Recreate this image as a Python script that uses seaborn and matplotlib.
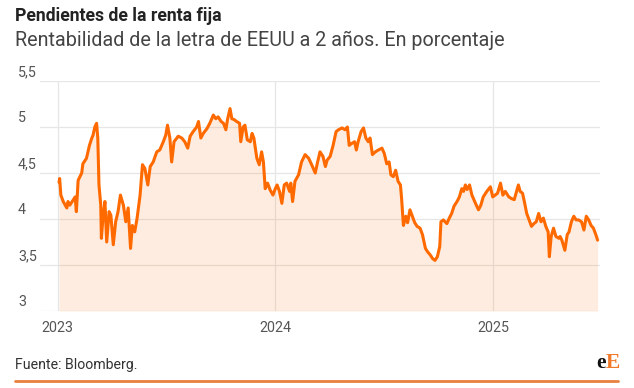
import matplotlib
matplotlib.use("Agg")
import matplotlib.pyplot as plt
import seaborn as sns
import pandas as pd

# ---------------- data ----------------
fechas = [
    "2023-01-03", "2023-01-04", "2023-01-06", "2023-01-10", "2023-01-16", "2023-01-18", "2023-01-21",
    "2023-01-27", "2023-01-30", "2023-02-01", "2023-02-04", "2023-02-10", "2023-02-12", "2023-02-18",
    "2023-02-23", "2023-02-27", "2023-03-01", "2023-03-04", "2023-03-07", "2023-03-09", "2023-03-11",
    "2023-03-14", "2023-03-15", "2023-03-18", "2023-03-21", "2023-03-24", "2023-03-28", "2023-03-31",
    "2023-04-04", "2023-04-08", "2023-04-12", "2023-04-16", "2023-04-21", "2023-04-25", "2023-04-29",
    "2023-05-03", "2023-05-06", "2023-05-10", "2023-05-14", "2023-05-19", "2023-05-23", "2023-05-27",
    "2023-06-01", "2023-06-05", "2023-06-10", "2023-06-16", "2023-06-21", "2023-06-27", "2023-07-01",
    "2023-07-04", "2023-07-08", "2023-07-11", "2023-07-15", "2023-07-22", "2023-07-28", "2023-08-02",
    "2023-08-07", "2023-08-11", "2023-08-16", "2023-08-22", "2023-08-25", "2023-08-29", "2023-09-02",
    "2023-09-08", "2023-09-13", "2023-09-19", "2023-09-23", "2023-09-27", "2023-10-02", "2023-10-06",
    "2023-10-10", "2023-10-13", "2023-10-17", "2023-10-20", "2023-10-24", "2023-10-28", "2023-11-02",
    "2023-11-04", "2023-11-08", "2023-11-11", "2023-11-15", "2023-11-20", "2023-11-23", "2023-11-26",
    "2023-12-01", "2023-12-05", "2023-12-09", "2023-12-12", "2023-12-15", "2023-12-19", "2023-12-23",
    "2023-12-28", "2024-01-01", "2024-01-04", "2024-01-08", "2024-01-12", "2024-01-16", "2024-01-20",
    "2024-01-25", "2024-01-27", "2024-01-30", "2024-02-03", "2024-02-09", "2024-02-14", "2024-02-20",
    "2024-02-26", "2024-03-02", "2024-03-08", "2024-03-12", "2024-03-16", "2024-03-21", "2024-03-25",
    "2024-03-28", "2024-04-02", "2024-04-07", "2024-04-12", "2024-04-16", "2024-04-22", "2024-04-27",
    "2024-05-01", "2024-05-04", "2024-05-08", "2024-05-13", "2024-05-16", "2024-05-19", "2024-05-24",
    "2024-05-28", "2024-06-01", "2024-06-05", "2024-06-08", "2024-06-12", "2024-06-17", "2024-06-22",
    "2024-06-28", "2024-07-02", "2024-07-06", "2024-07-10", "2024-07-13", "2024-07-17", "2024-07-21",
    "2024-07-25", "2024-07-29", "2024-07-31", "2024-08-03", "2024-08-07", "2024-08-10", "2024-08-14",
    "2024-08-18", "2024-08-22", "2024-08-26", "2024-08-31", "2024-09-04", "2024-09-09", "2024-09-13",
    "2024-09-17", "2024-09-21", "2024-09-25", "2024-09-29", "2024-10-03", "2024-10-05", "2024-10-09",
    "2024-10-15", "2024-10-19", "2024-10-23", "2024-10-27", "2024-11-01", "2024-11-05", "2024-11-09",
    "2024-11-12", "2024-11-15", "2024-11-18", "2024-11-22", "2024-11-26", "2024-12-02", "2024-12-07",
    "2024-12-11", "2024-12-15", "2024-12-21", "2024-12-27", "2024-12-31", "2025-01-04", "2025-01-08",
    "2025-01-13", "2025-01-17", "2025-01-21", "2025-01-27", "2025-02-01", "2025-02-05", "2025-02-09",
    "2025-02-12", "2025-02-15", "2025-02-19", "2025-02-22", "2025-02-26", "2025-03-02", "2025-03-06",
    "2025-03-10", "2025-03-14", "2025-03-18", "2025-03-22", "2025-03-26", "2025-03-30", "2025-04-03",
    "2025-04-05", "2025-04-08", "2025-04-12", "2025-04-16", "2025-04-21", "2025-04-23", "2025-04-26",
    "2025-05-01", "2025-05-05", "2025-05-08", "2025-05-12", "2025-05-16", "2025-05-20", "2025-05-24",
    "2025-05-29", "2025-06-02", "2025-06-06", "2025-06-10", "2025-06-14", "2025-06-18", "2025-06-22",
    "2025-06-25",
]
rentabilidad = [
    4.40, 4.44, 4.26, 4.19, 4.12, 4.19, 4.15,
    4.21, 4.24, 4.08, 4.42, 4.50, 4.60, 4.66,
    4.80, 4.88, 4.91, 5.00, 5.04, 4.88, 4.37,
    4.15, 3.79, 4.04, 4.19, 3.75, 4.08, 4.04,
    3.72, 3.97, 4.08, 4.26, 4.15, 3.97, 4.12,
    3.68, 3.93, 3.86, 4.01, 4.26, 4.59, 4.55,
    4.37, 4.57, 4.62, 4.73, 4.75, 4.84, 4.91,
    5.02, 4.88, 4.62, 4.84, 4.90, 4.88, 4.84,
    4.77, 4.90, 4.95, 5.00, 5.06, 4.88, 4.93,
    4.98, 5.04, 5.13, 5.09, 5.11, 5.06, 5.04,
    4.97, 5.09, 5.20, 5.09, 5.08, 5.06, 5.04,
    4.84, 5.00, 5.02, 4.86, 4.84, 4.93, 4.88,
    4.66, 4.59, 4.73, 4.62, 4.33, 4.39, 4.32,
    4.26, 4.33, 4.37, 4.30, 4.17, 4.37, 4.39,
    4.30, 4.39, 4.19, 4.41, 4.48, 4.62, 4.70,
    4.66, 4.59, 4.50, 4.62, 4.73, 4.68, 4.57,
    4.64, 4.68, 4.80, 4.95, 4.97, 4.99, 4.97,
    5.00, 4.80, 4.82, 4.84, 4.75, 4.84, 4.95,
    4.99, 4.88, 4.84, 4.88, 4.70, 4.73, 4.75,
    4.77, 4.71, 4.60, 4.62, 4.48, 4.46, 4.53,
    4.41, 4.37, 4.22, 3.93, 4.03, 3.96, 4.10,
    4.03, 3.96, 3.92, 3.90, 3.83, 3.68, 3.64,
    3.61, 3.57, 3.55, 3.59, 3.70, 3.97, 3.99,
    3.95, 4.01, 4.06, 4.14, 4.19, 4.24, 4.33,
    4.30, 4.37, 4.32, 4.37, 4.26, 4.17, 4.10,
    4.15, 4.24, 4.30, 4.35, 4.24, 4.26, 4.28,
    4.39, 4.26, 4.30, 4.24, 4.22, 4.21, 4.30,
    4.37, 4.30, 4.28, 4.19, 4.06, 3.99, 3.92,
    3.95, 3.97, 4.06, 3.97, 4.01, 3.92, 3.86,
    3.59, 3.81, 3.90, 3.81, 3.79, 3.81, 3.77,
    3.66, 3.83, 3.86, 3.97, 4.03, 3.99, 3.99,
    3.97, 3.88, 4.03, 3.99, 3.93, 3.90, 3.83,
    3.77,
]
x_ticks = ["2023-01-01", "2024-01-01", "2025-01-01"]
x_labels = ["2023", "2024", "2025"]
y_ticks = [3, 3.5, 4, 4.5, 5, 5.5]
y_labels = ["3", "3,5", "4", "4,5", "5", "5,5"]
titulo = "Pendientes de la renta fija"
subtitulo = "Rentabilidad de la letra de EEUU a 2 años. En porcentaje"
fuente = "Fuente: Bloomberg."

# ---------------- style ----------------
sns.set_style("white")
plt.rcParams["font.family"] = ["Roboto", "DejaVu Sans"]

LINE = "#FF6A00"
GRID = "#E6E6E6"
TXT = "#555555"

df = pd.DataFrame({"fecha": pd.to_datetime(fechas), "rentabilidad": rentabilidad})

fig = plt.figure(figsize=(6.34, 3.88), dpi=100)
W, H = 634, 388
ax = fig.add_axes([40 / W, (H - 311) / H, 560 / W, 230 / H])

ax.fill_between(df["fecha"], 3, df["rentabilidad"], color=LINE, alpha=0.12, lw=0, zorder=2)
sns.lineplot(data=df, x="fecha", y="rentabilidad", ax=ax, color=LINE, lw=2.2, zorder=3)

ax.set_xlim(pd.Timestamp("2022-12-02"), pd.Timestamp("2025-06-29"))
ax.set_ylim(3, 5.5)
ax.set_xlabel("")
ax.set_ylabel("")

ax.set_yticks(y_ticks)
ax.set_yticklabels([])
ax.set_xticks(pd.to_datetime(x_ticks))
ax.set_xticklabels(x_labels)
ax.grid(True, color=GRID, lw=0.9, zorder=0)
ax.set_axisbelow(True)
for s in ax.spines.values():
    s.set_visible(False)
ax.tick_params(axis="both", length=0)
ax.tick_params(axis="x", pad=7, labelsize=10.3, labelcolor=TXT)

for v, lab in zip(y_ticks, y_labels):
    ax.annotate(lab, xy=(0, v), xycoords=("axes fraction", "data"),
                xytext=(-22, 2), textcoords="offset pixels",
                ha="left", va="bottom", fontsize=10.3, color=TXT)

fig.text(15 / W, 1 - 16 / H, titulo, fontsize=12.7, fontweight="bold", color="#222222",
         ha="left", va="center")
fig.text(15 / W, 1 - 40 / H, subtitulo, fontsize=14.2, color="#444444",
         ha="left", va="center")
fig.text(15 / W, 1 - 365 / H, fuente, fontsize=10.2, color="#333333", ha="left", va="center")

fig.text(606 / W, 1 - 363 / H, "e", fontsize=15.5, fontweight="bold", color="#111111",
         family=["Liberation Serif", "DejaVu Serif"], ha="right", va="center")
fig.text(606 / W, 1 - 363 / H, "E", fontsize=15.5, fontweight="bold", color="#F07A2A",
         family=["Liberation Serif", "DejaVu Serif"], ha="left", va="center")

fig.add_artist(plt.Line2D([15 / W, 618 / W], [1 - 381 / H, 1 - 381 / H],
                          transform=fig.transFigure, color="#E8813F", lw=2))

fig.savefig("out.png", dpi=100)
